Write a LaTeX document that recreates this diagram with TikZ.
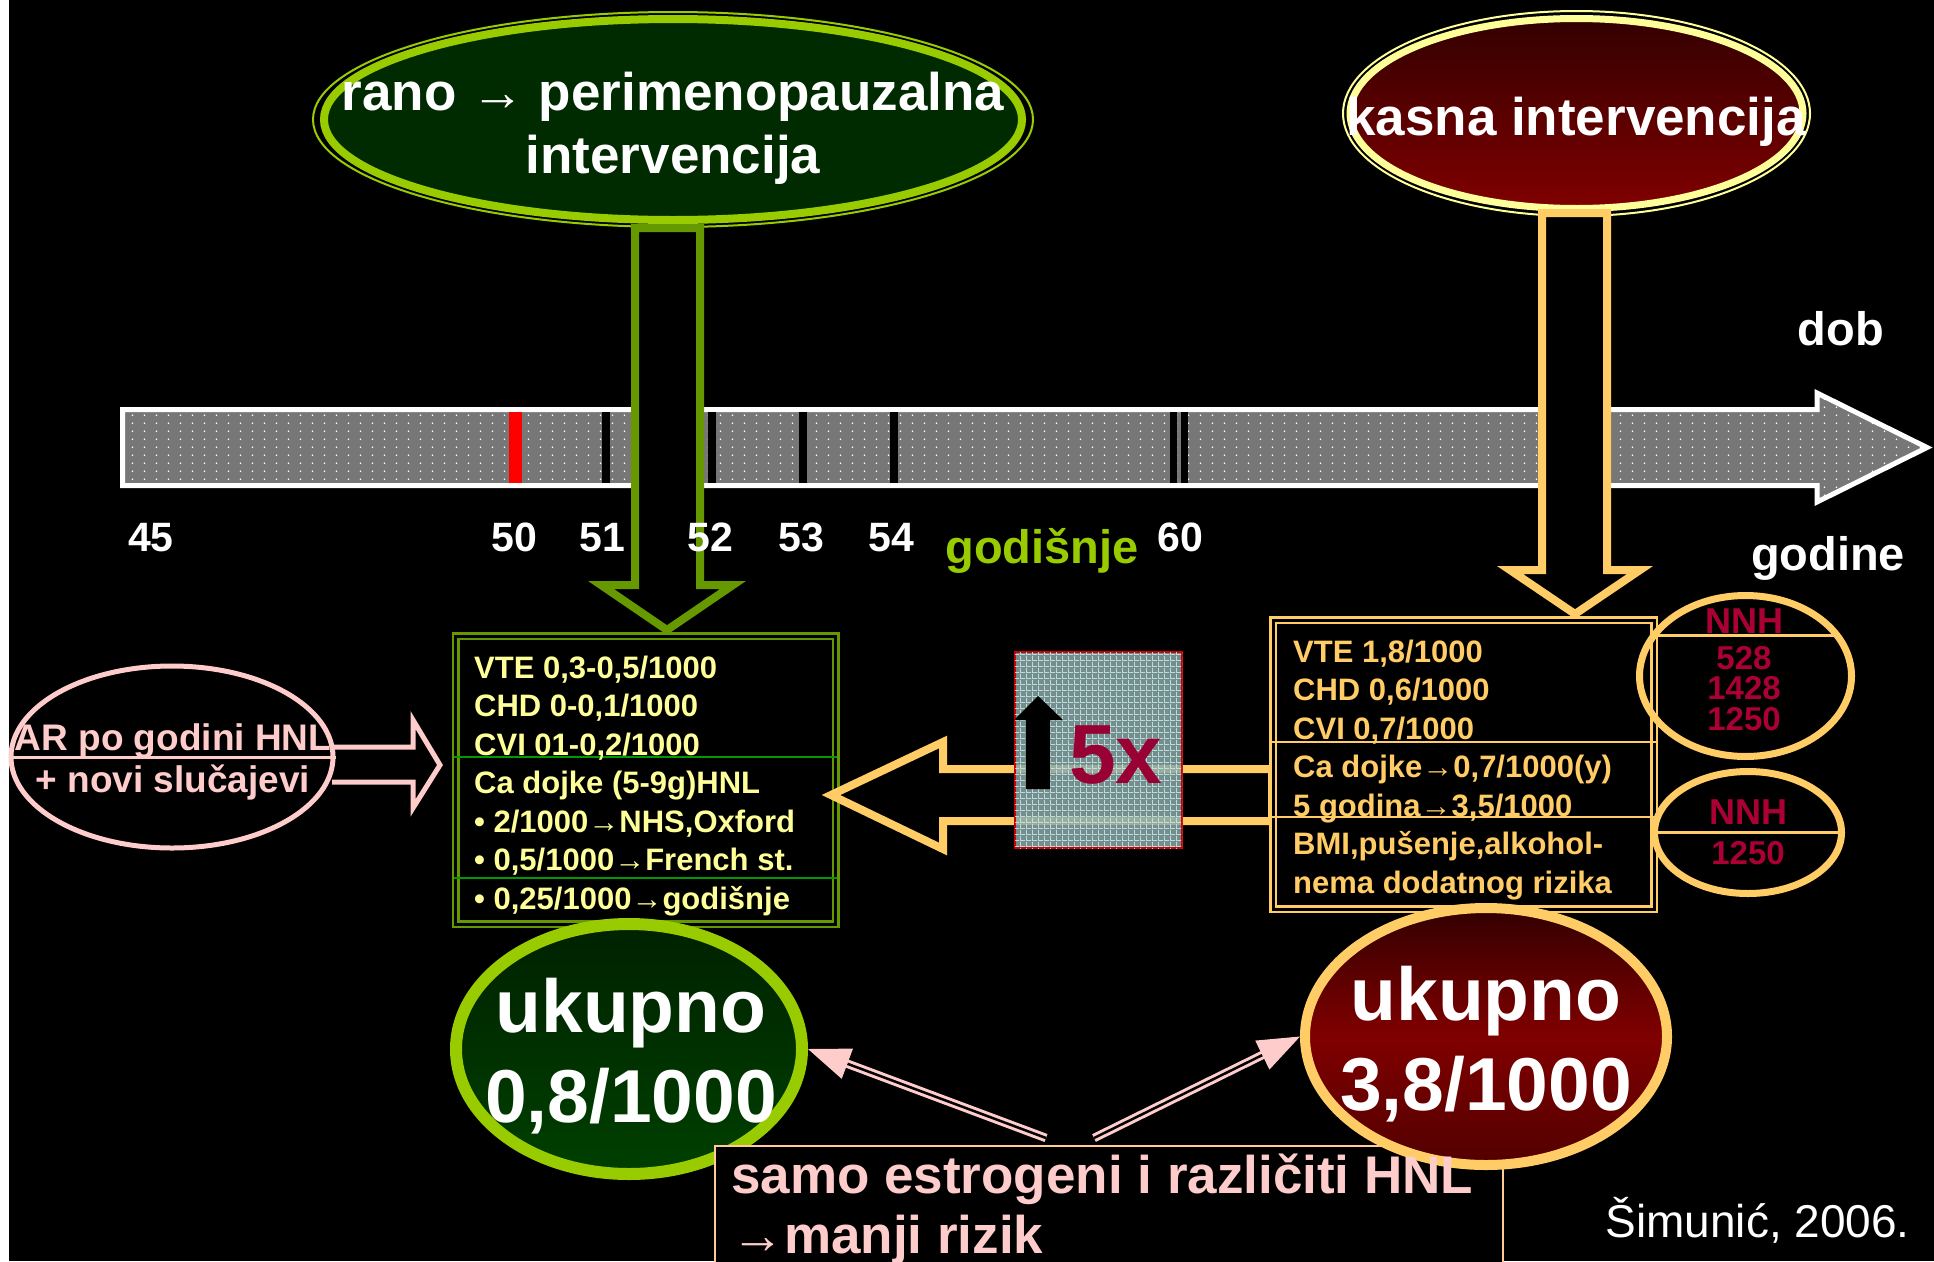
\documentclass[tikz,border=0pt]{standalone}
\usepackage{fontspec}
\setmainfont{Liberation Sans}
\usetikzlibrary{shapes.geometric,patterns,arrows.meta,calc}

\definecolor{limeC}{HTML}{99CC00}
\definecolor{oliveC}{HTML}{669900}
\definecolor{forestC}{HTML}{002A00}
\definecolor{paleY}{HTML}{FFFF99}
\definecolor{amberC}{HTML}{FFCC66}
\definecolor{wineC}{HTML}{990033}
\definecolor{nnhC}{HTML}{AA0033}
\definecolor{blushC}{HTML}{FFCCCC}
\definecolor{peachC}{HTML}{FFCC99}
\definecolor{maroonT}{HTML}{330000}
\definecolor{maroonB}{HTML}{800000}
\definecolor{barC}{HTML}{777777}
\definecolor{meshC}{HTML}{8AA6A6}
\definecolor{meshL}{HTML}{C6EAEA}
\definecolor{sepG}{HTML}{009900}
\definecolor{markR}{HTML}{FF0000}
\definecolor{edgeR}{HTML}{CC0000}

\pgfdeclarepatternformonly{bardots}{\pgfpointorigin}{\pgfpoint{11.5pt}{7.7pt}}{\pgfpoint{11.5pt}{7.7pt}}{\pgfpathcircle{\pgfpoint{5.75pt}{3.85pt}}{0.9pt}\pgfusepath{fill}}
\pgfdeclarepatternformonly{meshgrid}{\pgfpointorigin}{\pgfpoint{6pt}{6pt}}{\pgfpoint{6pt}{6pt}}{\pgfpathrectangle{\pgfpointorigin}{\pgfpoint{6pt}{1pt}}\pgfpathrectangle{\pgfpointorigin}{\pgfpoint{1pt}{6pt}}\pgfusepath{fill}}

\tikzset{
  bigoval/.style={ellipse, inner sep=0pt},
  ovaltxt/.style={text=white, font=\bfseries\fontsize{53pt}{63pt}\selectfont, align=center, anchor=base, inner sep=0pt},
  sumtxt/.style={text=white, font=\bfseries\fontsize{75pt}{90pt}\selectfont, align=center, anchor=base, inner sep=0pt},
  agelbl/.style={text=white, font=\bfseries\fontsize{41pt}{41pt}\selectfont, anchor=base, inner sep=0pt},
  wordlbl/.style={text=white, font=\bfseries\fontsize{47pt}{47pt}\selectfont, anchor=base, inner sep=0pt},
  riskbox/.style={rectangle, double=black, line width=2.5pt, double distance=3pt, inner sep=0pt, minimum width=381pt, minimum height=289pt},
  boxtxt/.style={font=\bfseries\fontsize{31pt}{38.5pt}\selectfont, align=left, anchor=base west, inner sep=0pt},
  nnhtxt/.style={text=nnhC, font=\bfseries\fontsize{33pt}{30.5pt}\selectfont, align=center, anchor=base, inner sep=0pt},
  blockarrow/.style={line width=8pt, fill=black, line join=miter},
  pinkshaft/.style={draw=blushC, double=black, line width=3pt, double distance=2.5pt},
  pinkhead/.style={blushC, line width=1pt, -{Triangle[length=42pt,width=32pt]}}
}

\begin{document}
\begin{tikzpicture}[x=1pt,y=-1pt]
\useasboundingbox (0,0) rectangle (1934,1261);
\clip (0,0) rectangle (1934,1261);
\fill[black] (0,0) rectangle (1934,1261);
\fill[white] (0,0) rectangle (9,1261);

% age axis
\draw[white, line width=5pt, fill=barC, postaction={pattern=bardots, pattern color=white}] (122.5,409.5) -- (1817,409.5) -- (1817,393) -- (1927,447.5) -- (1817,502) -- (1817,485.5) -- (122.5,485.5) -- cycle;
\fill[markR] (509,412) rectangle (522,483);
\fill[black] (602,412) rectangle (610,483);
\fill[black] (708,412) rectangle (716,483);
\fill[black] (799,412) rectangle (807,483);
\fill[black] (890,412) rectangle (898,483);
\fill[black] (1170,412) rectangle (1177,483);
\fill[black] (1181,412) rectangle (1188,483);

% intervention ovals
\node[bigoval, minimum width=698pt, minimum height=201pt, draw=limeC, line width=8pt, fill=forestC] (earlyO) at (673,119.5) {};
\draw[limeC, line width=2pt] (earlyO.center) ellipse [x radius=360, y radius=107.5];
\node[ovaltxt] (earlyT) at (673,173) {rano → perimenopauzalna\\intervencija};

\node[bigoval, minimum width=453pt, minimum height=190pt, draw=paleY, line width=7pt, top color=maroonT, bottom color=maroonB] (lateO) at (1576.5,113.5) {};
\draw[paleY, line width=2pt] (lateO.center) ellipse [x radius=233.5, y radius=102.5];
\node[ovaltxt] (lateT) at (1576,135) {kasna intervencija};

% down arrows
\draw[blockarrow, draw=oliveC] (635,228) -- (700,228) -- (700,585) -- (733,585) -- (667,630) -- (601,585) -- (635,585) -- cycle;
\draw[blockarrow, draw=amberC] (1542,213) -- (1607,213) -- (1607,570) -- (1640,570) -- (1575,614) -- (1510,570) -- (1542,570) -- cycle;

\node[agelbl] (a45) at (151,551) {45};
\node[agelbl] (a50) at (514,551) {50};
\node[agelbl] (a51) at (602,551) {51};
\node[agelbl] (a52) at (710,551) {52};
\node[agelbl] (a53) at (801,551) {53};
\node[agelbl] (a54) at (891,551) {54};
\node[agelbl] (a60) at (1180,551) {60};
\node[wordlbl, text=limeC] (yearly) at (1042,563) {godišnje};
\node[wordlbl] (dob) at (1841,345) {dob};
\node[wordlbl] (years) at (1828,570) {godine};

% risk boxes
\node[riskbox, draw=oliveC, minimum width=380pt, minimum height=288pt] (earlyBox) at (645.5,780) {};
\draw[sepG, line width=2pt] (earlyBox.west |- 0,757) -- (earlyBox.east |- 0,757);
\draw[sepG, line width=2pt] (earlyBox.west |- 0,878) -- (earlyBox.east |- 0,878);
\node[boxtxt, text=paleY] (earlyList) at (474,909) {VTE 0,3-0,5/1000\\CHD 0-0,1/1000\\CVI 01-0,2/1000\\Ca dojke (5-9g)HNL\\• 2/1000→NHS,Oxford\\• 0,5/1000→French st.\\• 0,25/1000→godišnje};

\draw[blockarrow, draw=amberC] (1272,769) -- (943,769) -- (943,742) -- (831,795) -- (943,849) -- (943,821) -- (1272,821) -- cycle;

\node[riskbox, draw=amberC] (lateBox) at (1463.75,764.5) {};
\draw[amberC, line width=2pt] (lateBox.west |- 0,742) -- (lateBox.east |- 0,742);
\draw[amberC, line width=2pt] (lateBox.west |- 0,817) -- (lateBox.east |- 0,817);
\node[boxtxt, text=amberC] (lateList) at (1293,893) {VTE 1,8/1000\\CHD 0,6/1000\\CVI 0,7/1000\\Ca dojke→0,7/1000(y)\\5 godina→3,5/1000\\BMI,pušenje,alkohol-\\nema dodatnog rizika};

% five times box
\node[draw=edgeR, line width=2pt, fill=meshC, fill opacity=0.85, postaction={pattern=meshgrid, pattern color=meshL}, minimum width=167pt, minimum height=196pt, inner sep=0pt] (fiveBox) at (1098.5,750) {};
\fill[black] (1026,789) -- (1026,720) -- (1014,720) -- (1038,696) -- (1063,720) -- (1050,720) -- (1050,789) -- cycle;
\node[text=wineC, font=\bfseries\fontsize{84pt}{84pt}\selectfont, anchor=base west, inner sep=0pt] (fiveT) at (1069,783) {5x};

% NNH ovals
\node[bigoval, minimum width=212pt, minimum height=161pt, draw=amberC, line width=7pt] (nnhA) at (1745.5,676) {};
\draw[amberC, line width=3pt] ($(nnhA.center)+(-92,-41)$) -- ($(nnhA.center)+(92,-41)$);
\node[nnhtxt, font=\bfseries\fontsize{36pt}{36pt}\selectfont] (nnhAT) at (1744,633) {NNH};
\node[nnhtxt] (nnhAN) at (1744,730) {528\\1428\\1250};

\node[bigoval, minimum width=187pt, minimum height=122pt, draw=amberC, line width=7pt] (nnhB) at (1748,832.5) {};
\draw[amberC, line width=3pt] ($(nnhB.center)+(-91,0)$) -- ($(nnhB.center)+(91,0)$);
\node[nnhtxt, font=\bfseries\fontsize{36pt}{36pt}\selectfont] (nnhBT) at (1748,824) {NNH};
\node[nnhtxt] (nnhBN) at (1748,864) {1250};

% absolute risk oval
\node[bigoval, minimum width=322pt, minimum height=182pt, draw=blushC, line width=5pt] (arO) at (172,757) {};
\draw[blushC, line width=3pt] (arO.west) -- (arO.east);
\node[text=blushC, font=\bfseries\fontsize{37pt}{42pt}\selectfont, align=center, anchor=base, inner sep=0pt] (arT) at (173,792) {AR po godini HNL\\+ novi slučajevi};
\draw[blushC, line width=5pt] (332,747) -- (413,747) -- (413,720) -- (440,765) -- (413,808) -- (413,782) -- (332,782);

% totals
\node[bigoval, minimum width=346pt, minimum height=250pt, draw=limeC, line width=12pt, top color=forestC!80!black, bottom color=forestC!70!green!60!black] (sumEarly) at (629,1049) {};
\node[sumtxt] (sumEarlyT) at (631,1122) {ukupno\\0,8/1000};

\node[draw=peachC, line width=2pt, fill=black, anchor=north west, minimum width=788pt, minimum height=160pt, inner sep=0pt] (mildBox) at (714,1145) {};

\node[bigoval, minimum width=362pt, minimum height=257pt, draw=amberC, line width=10pt, top color=maroonT, bottom color=maroonT!60!maroonB, middle color=maroonB] (sumLate) at (1486,1036.5) {};
\node[sumtxt] (sumLateT) at (1486,1110) {ukupno\\3,8/1000};

\node[text=blushC, font=\bfseries\fontsize{53pt}{60pt}\selectfont, align=left, anchor=base west, inner sep=0pt] (mildT) at (731,1253) {samo estrogeni i različiti HNL\\→manji rizik};

\coordinate (mildL) at (1046,1138);
\coordinate (mildR) at (1094,1138);
\draw[pinkshaft, shorten >=38pt] (mildL) -- (sumEarly.east);
\draw[pinkhead] ($(sumEarly.east)!42pt!(mildL)$) -- (sumEarly.east);
\draw[pinkshaft, shorten >=38pt] (mildR) -- (sumLate.west);
\draw[pinkhead] ($(sumLate.west)!42pt!(mildR)$) -- (sumLate.west);

\node[text=white, font=\fontsize{46pt}{46pt}\selectfont, anchor=base east, inner sep=0pt] (cite) at (1910,1237) {Šimunić, 2006.};
\end{tikzpicture}
\end{document}
